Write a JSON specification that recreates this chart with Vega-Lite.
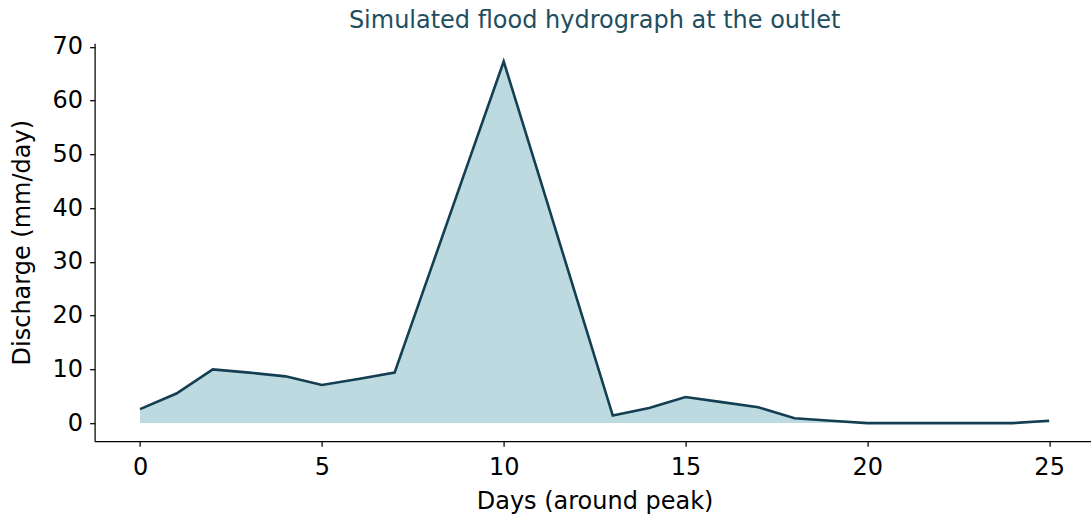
{
  "$schema": "https://vega.github.io/schema/vega-lite/v6.json",
  "width": 1000,
  "height": 398,
  "autosize": "none",
  "padding": {"left": 94.6, "top": 43.2, "right": 0, "bottom": 72.8},
  "background": "white",
  "title": {"text": "Simulated flood hydrograph at the outlet", "color": "#1f4e5f", "font": "DejaVu Sans", "fontSize": 24, "fontWeight": "normal", "anchor": "middle", "offset": 2},
  "data": {"values": [
    {"day": 0, "q": 2.6}, {"day": 1, "q": 5.5}, {"day": 2, "q": 10.0}, {"day": 3, "q": 9.4},
    {"day": 4, "q": 8.7}, {"day": 5, "q": 7.1}, {"day": 6, "q": 8.2}, {"day": 7, "q": 9.4},
    {"day": 8, "q": 28.7}, {"day": 9, "q": 48.0}, {"day": 10, "q": 67.3}, {"day": 11, "q": 45.4},
    {"day": 12, "q": 23.4}, {"day": 13, "q": 1.4}, {"day": 14, "q": 2.8}, {"day": 15, "q": 4.85},
    {"day": 16, "q": 3.9}, {"day": 17, "q": 2.95}, {"day": 18, "q": 0.9}, {"day": 19, "q": 0.45},
    {"day": 20, "q": 0.0}, {"day": 21, "q": 0.0}, {"day": 22, "q": 0.0}, {"day": 23, "q": 0.0},
    {"day": 24, "q": 0.0}, {"day": 25, "q": 0.45}
  ]},
  "encoding": {
    "x": {"field": "day", "type": "quantitative", "scale": {"domain": [-1.25, 26.25], "nice": false, "zero": false},
      "axis": {"values": [0, 5, 10, 15, 20, 25], "title": "Days (around peak)", "grid": false}},
    "y": {"field": "q", "type": "quantitative", "scale": {"domain": [-3.37, 70.7], "nice": false, "zero": false},
      "axis": {"values": [0, 10, 20, 30, 40, 50, 60, 70], "title": "Discharge (mm/day)", "grid": false}}
  },
  "layer": [
    {"mark": {"type": "area", "color": "#bcdae0", "opacity": 1}, "encoding": {"y2": {"datum": 0}}},
    {"mark": {"type": "line", "color": "#143f52", "strokeWidth": 2.6}}
  ],
  "config": {
    "view": {"stroke": null},
    "axis": {
      "domainColor": "#000000", "domainWidth": 1.25, "tickColor": "#000000", "tickWidth": 1.25, "tickSize": 5,
      "labelFont": "DejaVu Sans", "labelFontSize": 24, "labelColor": "#000000", "labelPadding": 7,
      "titleFont": "DejaVu Sans", "titleFontSize": 24, "titleFontWeight": "normal", "titleColor": "#000000"
    },
    "axisX": {"titlePadding": 10, "labelPadding": 9},
    "axisY": {"titlePadding": 18}
  }
}
